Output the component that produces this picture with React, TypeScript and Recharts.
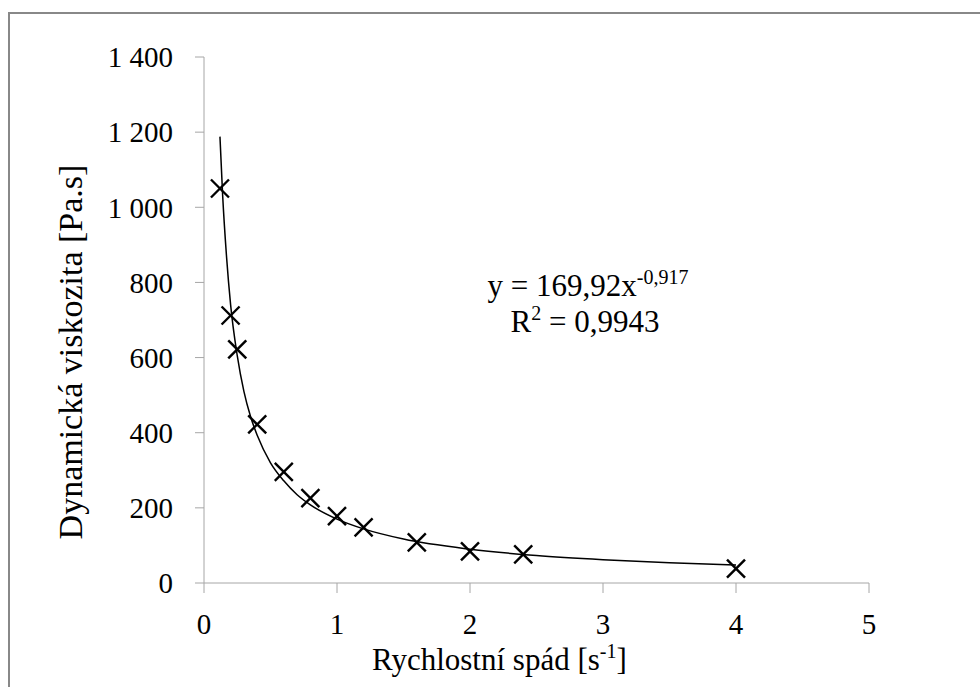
import { ComposedChart, Line, Scatter, XAxis, YAxis } from "recharts";

// měřené body (rychlostní spád, viskozita)
const shearRate = [0.12, 0.2, 0.25, 0.4, 0.6, 0.8, 1.0, 1.2, 1.6, 2.0, 2.4, 4.0];
const viscosity = [1050, 712, 622, 422, 296, 226, 178, 148, 108, 84, 76, 38];

// mocninná spojnice trendu
const trendX = [0.12, 0.14, 0.17, 0.2, 0.25, 0.3, 0.35, 0.4, 0.5, 0.6, 0.7, 0.8, 1.0, 1.2, 1.5, 2.0, 2.5, 3.0, 3.5, 4.0];
const trendY = [1188, 1033, 866, 741, 605, 510, 443, 393, 320, 272, 235, 208, 170, 144, 117, 90, 73, 62, 54, 48];

const xTicks = [0, 1, 2, 3, 4, 5];
const yTicks = [0, 200, 400, 600, 800, 1000, 1200, 1400];

const points = shearRate.map((x, i) => ({ x, y: viscosity[i] }));
const trend = trendX.map((x, i) => ({ x, y: trendY[i] }));

const FONT = "Times New Roman, serif";
const AXIS = "#a6a6a6";

const fmt = (v: number) => {
  const s = String(v);
  return s.length > 3 ? s.slice(0, s.length - 3) + " " + s.slice(-3) : s;
};

const Cross = (props: any) => {
  const { cx, cy } = props;
  const r = 9;
  return (
    <g stroke="#000" strokeWidth={2.4}>
      <line x1={cx - r} y1={cy - r} x2={cx + r} y2={cy + r} />
      <line x1={cx - r} y1={cy + r} x2={cx + r} y2={cy - r} />
    </g>
  );
};

export default function App() {
  return (
    <div style={{ position: "absolute", left: 0, top: 0, width: 980, height: 687, overflow: "hidden", background: "#fff" }}>
      <div
        style={{
          position: "absolute",
          left: 8,
          top: 12,
          width: 1000,
          height: 700,
          borderLeft: "2px solid #888",
          borderTop: "2px solid #888",
        }}
      />
      <ComposedChart
        width={980}
        height={687}
        margin={{ top: 57, right: 111, bottom: 0, left: 0 }}
        style={{ position: "absolute", left: 0, top: 0 }}
      >
        <XAxis
          type="number"
          dataKey="x"
          domain={[0, 5]}
          ticks={xTicks}
          allowDataOverflow
          height={104}
          stroke={AXIS}
          tickSize={10}
          tickMargin={20}
          tick={{ fill: "#000", fontSize: 29, fontFamily: FONT }}
          label={{
            content: () => (
              <text x={372} y={670} textAnchor="start" fontSize={31} fontFamily={FONT} fill="#000">
                Rychlostní spád [s
                <tspan dy={-12} fontSize={20}>-1</tspan>
                <tspan dy={12}>]</tspan>
              </text>
            ),
          }}
        />
        <YAxis
          type="number"
          dataKey="y"
          domain={[0, 1400]}
          ticks={yTicks}
          width={204}
          stroke={AXIS}
          tickSize={9}
          tickMargin={22}
          tickFormatter={fmt}
          tick={{ fill: "#000", fontSize: 29, fontFamily: FONT }}
          label={{
            content: () => (
              <text
                x={82}
                y={352}
                transform="rotate(-90, 82, 352)"
                textAnchor="middle"
                fontSize={34}
                fontFamily={FONT}
                fill="#000"
              >
                Dynamická viskozita [Pa.s]
              </text>
            ),
          }}
        />
        <Line
          data={trend}
          dataKey="y"
          type="monotone"
          stroke="#000"
          strokeWidth={1.5}
          dot={false}
          activeDot={false}
          isAnimationActive={false}
        />
        <Scatter data={points} dataKey="y" shape={Cross} isAnimationActive={false} />
        <text x={588} y={296} textAnchor="middle" fontSize={31} fontFamily={FONT} fill="#000">
          y = 169,92x
          <tspan dy={-12} fontSize={20}>-0,917</tspan>
        </text>
        <text x={585} y={332} textAnchor="middle" fontSize={31} fontFamily={FONT} fill="#000">
          R
          <tspan dy={-12} fontSize={20}>2</tspan>
          <tspan dy={12}> = 0,9943</tspan>
        </text>
      </ComposedChart>
    </div>
  );
}
